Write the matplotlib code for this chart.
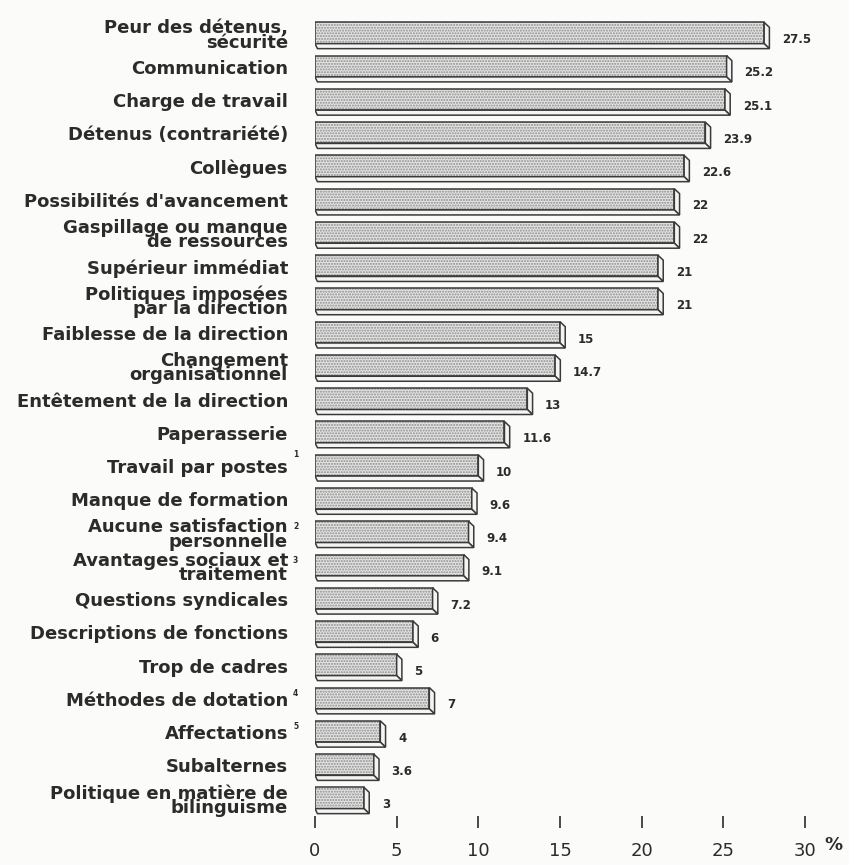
import matplotlib.pyplot as plt
from matplotlib.patches import Polygon

# sources of stress, share of respondents (%)
categories = [
    "Peur des détenus,\nsécurité",
    "Communication",
    "Charge de travail",
    "Détenus (contrariété)",
    "Collègues",
    "Possibilités d'avancement",
    "Gaspillage ou manque\nde ressources",
    "Supérieur immédiat",
    "Politiques imposées\npar la direction",
    "Faiblesse de la direction",
    "Changement\norganisationnel",
    "Entêtement de la direction",
    "Paperasserie",
    "Travail par postes",
    "Manque de formation",
    "Aucune satisfaction\npersonnelle",
    "Avantages sociaux et\ntraitement",
    "Questions syndicales",
    "Descriptions de fonctions",
    "Trop de cadres",
    "Méthodes de dotation",
    "Affectations",
    "Subalternes",
    "Politique en matière de\nbilinguisme",
]
# footnote markers: row index -> marker
footnotes = {13: "1", 15: "2", 16: "3", 20: "4", 21: "5"}
values = [27.5, 25.2, 25.1, 23.9, 22.6, 22, 22, 21, 21, 15, 14.7, 13, 11.6,
          10, 9.6, 9.4, 9.1, 7.2, 6, 5, 7, 4, 3.6, 3]
value_labels = ["27.5", "25.2", "25.1", "23.9", "22.6", "22", "22", "21", "21",
                "15", "14.7", "13", "11.6", "10", "9.6", "9.4", "9.1", "7.2",
                "6", "5", "7", "4", "3.6", "3"]
xticks = [0, 5, 10, 15, 20, 25, 30]

W, H = 849, 865
ink = "#2b2b2b"
edge = "#3a3a3a"

fig = plt.figure(figsize=(W / 100, H / 100), dpi=100)
fig.patch.set_facecolor("#fbfbf9")

# axes in pixel terms: x 0..30 spans 315..805 px, rows 0..23 centred 35..800 px
x0, x1 = 315, 805
top_px, bot_px = 20, 828
per_px = 23 / 765.0
ylo = -(35 - top_px) * per_px
yhi = 23 + (bot_px - 800) * per_px
ax = fig.add_axes([x0 / W, 1 - bot_px / H, (x1 - x0) / W, (bot_px - top_px) / H])
ax.set_xlim(0, 30)
ax.set_ylim(yhi, ylo)
ax.patch.set_alpha(0)

n = len(values)
ypos = list(range(n))
h = 0.64           # front face height
dx, dy = 0.32, 0.15  # extrusion toward lower right
off = -0.06

# dotted fill and outline drawn separately so the dots stay grey
ax.barh([y + off for y in ypos], values, height=h, left=0, color="#e4e4e4",
        edgecolor="#8c8c8c", hatch="......", linewidth=0, zorder=2)
ax.barh([y + off for y in ypos], values, height=h, left=0, fill=False,
        edgecolor=edge, linewidth=1.1, zorder=3)

for y, v in zip(ypos, values):
    yt = y + off - h / 2
    yb = y + off + h / 2
    # right side face
    side = Polygon([(v, yt), (v + dx, yt + dy), (v + dx, yb + dy), (v, yb)],
                   closed=True, facecolor="#f4f4f2", edgecolor=edge,
                   linewidth=1.1, zorder=3)
    # bottom face
    bottom = Polygon([(0, yb), (v, yb), (v + dx, yb + dy), (0.15, yb + dy)],
                     closed=True, facecolor="#f4f4f2", edgecolor=edge,
                     linewidth=1.1, zorder=3)
    ax.add_patch(side)
    ax.add_patch(bottom)

for y, v, lab in zip(ypos, values, value_labels):
    ax.annotate(lab, xy=(v + dx, y + 0.14), xytext=(9, 0),
                textcoords="offset points", ha="left", va="center",
                fontsize=8.5, fontweight="bold", color=ink,
                annotation_clip=False)

for y, cat in zip(ypos, categories):
    ax.annotate(cat, xy=(0, y + 0.02), xytext=(-19.5, 0),
                textcoords="offset points", ha="right", va="center",
                fontsize=13, fontweight="bold", color=ink, linespacing=0.74,
                annotation_clip=False)

for i, mark in footnotes.items():
    ax.annotate(mark, xy=(0, i), xytext=(-14, 5 if i != 13 else 9),
                textcoords="offset points", ha="center", va="center",
                fontsize=5.5, fontweight="bold", color=ink,
                annotation_clip=False)

for s in ax.spines.values():
    s.set_visible(False)
ax.set_yticks([])
ax.set_xticks(xticks)
ax.set_xticklabels([str(t) for t in xticks])
ax.tick_params(axis="x", direction="in", length=9, width=1.2, color=ink,
               labelsize=13, labelcolor=ink, pad=10)
ax.text(1.058, -0.021, "%", transform=ax.transAxes, ha="center", va="center",
        fontsize=13, fontweight="bold", color=ink)

fig.savefig("out.png", dpi=100, facecolor=fig.get_facecolor())
